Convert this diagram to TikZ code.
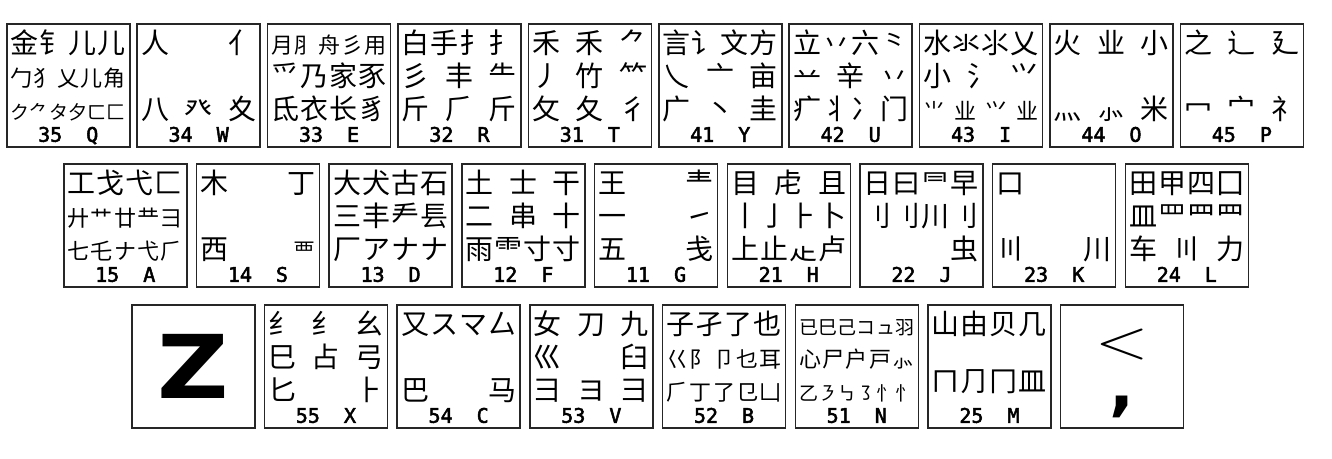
\documentclass[tikz,border=0pt]{standalone}
\usepackage{fontspec}
\usepackage{tikz}
\usetikzlibrary{positioning}
\newfontfamily\cjkfont{Noto Sans CJK SC}
\newfontfamily\labfont{DejaVu Sans Mono}[UprightFeatures={FakeBold=2.5}]
\newfontfamily\boldsans{DejaVu Sans}[BoldFont={* Bold}]
\newfontfamily\thinfont{Latin Modern Roman}
\newcommand{\keylab}[2]{\null\hfill{\labfont\fontsize{20}{20}\selectfont #1\hspace{24pt}#2}\hfill\null}
\newcommand{\smallrow}[1]{{\fontsize{22}{33}\selectfont #1}}
\newcommand{\tinyrow}[1]{{\fontsize{19}{33}\selectfont #1}}

\begin{document}
\begin{tikzpicture}[x=1pt, y=-1pt,
node distance=5.9pt,
keycap/.style={draw=black!85, line width=1.5pt, minimum width=123pt, minimum height=123pt, inner sep=0pt},
radkey/.style={keycap, text width=115pt, align=justify, text height=30pt, text depth=93pt, font=\cjkfont\fontsize{28}{33}\selectfont}
]
\useasboundingbox (0,0) rectangle (1332,458);
% top row
\node[radkey, anchor=north west] (q) at (6,23) {金\hfill 钅\hfill 儿\hfill ⼉\\ \smallrow{勹\hfill 犭\hfill 乂\hfill 儿\hfill 角}\\ \tinyrow{ク\hfill ⺈\hfill タ\hfill 夕\hfill ㄈ\hfill 匚}\\[-11pt] \keylab{35}{Q}};
\node[radkey, right=of q] (w) {人\hfill 亻\\ \null\\ 八\hfill 癶\hfill 夊\\[-11pt] \keylab{34}{W}};
\node[radkey, right=of w] (e) {\smallrow{月\hfill ⺼\hfill 舟\hfill 彡\hfill 用}\\ 爫\hfill 乃\hfill 家\hfill 豕\\ 氐\hfill 衣\hfill 长\hfill 豸\\[-11pt] \keylab{33}{E}};
\node[radkey, right=of e] (r) {白\hfill 手\hfill ⺘\hfill 扌\\ 彡\hfill 丰\hfill ⺧\\ 斤\hfill ⺁\hfill ⽄\\[-11pt] \keylab{32}{R}};
\node[radkey, right=of r] (t) {禾\hfill ⽲\hfill ⺈\\ 丿\hfill 竹\hfill ⺮\\ 攵\hfill 夂\hfill 彳\\[-11pt] \keylab{31}{T}};
\node[radkey, right=of t] (y) {言\hfill 讠\hfill 文\hfill 方\\ 乀\hfill 亠\hfill 亩\\ 广\hfill 丶\hfill 圭\\[-11pt] \keylab{41}{Y}};
\node[radkey, right=of y] (u) {立\hfill 丷\hfill 六\hfill ⺀\\ 䒑\hfill 辛\hfill 丷\\ 疒\hfill 丬\hfill 冫\hfill 门\\[-11pt] \keylab{42}{U}};
\node[radkey, right=of u] (i) {水\hfill 氺\hfill ⺢\hfill 乂\\ 小\hfill 氵\hfill ⺍\\ \smallrow{⺌\hfill 业\hfill ⺍\hfill 业}\\[-11pt] \keylab{43}{I}};
\node[radkey, right=of i] (o) {火\hfill 业\hfill 小\\ \null\\ 灬\hfill ⺗\hfill 米\\[-11pt] \keylab{44}{O}};
\node[radkey, right=of o] (p) {之\hfill 辶\hfill 廴\\ \null\\ 冖\hfill 宀\hfill 礻\\[-11pt] \keylab{45}{P}};
% middle row
\node[radkey, anchor=north west] (a) at (63,163) {工\hfill 戈\hfill 弋\hfill 匚\\ \smallrow{廾\hfill 艹\hfill 廿\hfill 龷\hfill ⺕}\\ \smallrow{七\hfill 乇\hfill ナ\hfill 弋\hfill ⺁}\\[-11pt] \keylab{15}{A}};
\node[radkey, right=8.2pt of a] (s) {木\hfill 丁\\ \null\\ 西\hfill \smallrow{覀}\\[-11pt] \keylab{14}{S}};
\node[radkey, right=8.2pt of s] (d) {大\hfill 犬\hfill 古\hfill 石\\ 三\hfill 丰\hfill 龵\hfill 镸\\ 厂\hfill ア\hfill ナ\hfill ナ\\[-11pt] \keylab{13}{D}};
\node[radkey, right=8.2pt of d] (f) {土\hfill 士\hfill 干\\ 二\hfill 串\hfill 十\\ 雨\hfill ⻗\hfill 寸\hfill ⼨\\[-11pt] \keylab{12}{F}};
\node[radkey, right=8.2pt of f] (g) {王\hfill 龶\\ 一\hfill ㇀\\ 五\hfill 戋\\[-11pt] \keylab{11}{G}};
\node[radkey, right=8.2pt of g] (h) {目\hfill 虍\hfill 且\\ 丨\hfill 亅\hfill ⺊\hfill 卜\\ 上\hfill 止\hfill 龰\hfill 卢\\[-11pt] \keylab{21}{H}};
\node[radkey, right=8.2pt of h] (j) {日\hfill 曰\hfill ⺜\hfill 早\\ 刂\hfill ⺉\hfill 川\hfill 刂\\ \null\hfill 虫\\[-11pt] \keylab{22}{J}};
\node[radkey, right=8.2pt of j] (k) {口\\ \null\\ 〣\hfill 川\\[-11pt] \keylab{23}{K}};
\node[radkey, right=8.2pt of k] (l) {田\hfill 甲\hfill 四\hfill 囗\\ 皿\hfill 罒\hfill ⺫\hfill ⺲\\ 车\hfill 〣\hfill 力\\[-11pt] \keylab{24}{L}};
% bottom row
\node[keycap, anchor=north west, font=\boldsans\bfseries\fontsize{88}{88}\selectfont] (z) at (131,304) {\scalebox{1.12}[1]{Z}};
\node[radkey, right=8.2pt of z] (x) {纟\hfill ⺰\hfill 幺\\ 巳\hfill 占\hfill 弓\\ 匕\hfill ⺊\\[-11pt] \keylab{55}{X}};
\node[radkey, right=8.2pt of x] (c) {又\hfill ス\hfill マ\hfill 厶\\ \null\\ 巴\hfill 马\\[-11pt] \keylab{54}{C}};
\node[radkey, right=8.2pt of c] (v) {女\hfill 刀\hfill 九\\ 巛\hfill 臼\\ 彐\hfill ヨ\hfill ⺕\\[-11pt] \keylab{53}{V}};
\node[radkey, right=8.2pt of v] (b) {子\hfill 孑\hfill 了\hfill 也\\ \smallrow{巜\hfill 阝\hfill 卩\hfill 乜\hfill 耳}\\ \smallrow{⺁\hfill 丁\hfill 了\hfill ⺋\hfill 凵}\\[-11pt] \keylab{52}{B}};
\node[radkey, right=8.2pt of b] (n) {\tinyrow{已\hfill 巳\hfill 己\hfill コ\hfill ュ\hfill 羽}\\ \smallrow{心\hfill 尸\hfill 户\hfill 戸\hfill ⺗}\\ \tinyrow{乙\hfill ㇋\hfill ㇉\hfill ㇌\hfill ⺖\hfill 忄}\\[-11pt] \keylab{51}{N}};
\node[radkey, right=8.2pt of n] (m) {山\hfill 由\hfill 贝\hfill 几\\[24pt] ㄇ\hfill ⺆\hfill 冂\hfill 皿\\[-2pt] \keylab{25}{M}};
\node[radkey, right=8.2pt of m, align=center, text height=54pt, text depth=69pt, font=\thinfont\fontsize{56}{50}\selectfont] (comma) {\scalebox{1.25}[1]{<}\\{\boldsans\bfseries\fontsize{66}{50}\selectfont ,}};
\end{tikzpicture}
\end{document}
